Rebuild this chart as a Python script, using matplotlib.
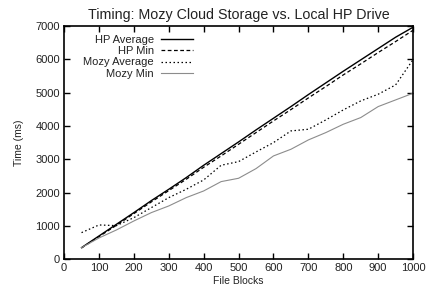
import matplotlib
matplotlib.use("Agg")
import matplotlib.pyplot as plt

plt.rcParams['font.family'] = ['Liberation Sans', 'DejaVu Sans']

# file blocks
blocks = [50, 100, 150, 200, 250, 300, 350, 400, 450, 500,
          550, 600, 650, 700, 750, 800, 850, 900, 950, 1000]

# times in ms
hp_avg = [350, 700, 1050, 1400, 1760, 2100, 2450, 2820, 3170, 3520,
          3880, 4230, 4580, 4940, 5290, 5640, 5980, 6320, 6660, 6960]
hp_min = [340, 680, 1020, 1370, 1720, 2060, 2400, 2760, 3100, 3450,
          3800, 4150, 4490, 4840, 5180, 5530, 5860, 6200, 6530, 6870]
mozy_avg = [800, 1030, 1010, 1250, 1550, 1850, 2100, 2380, 2820, 2930,
            3220, 3500, 3850, 3900, 4180, 4480, 4750, 4950, 5230, 5990]
mozy_min = [350, 640, 880, 1150, 1400, 1600, 1850, 2050, 2330, 2430,
            2720, 3100, 3300, 3580, 3800, 4050, 4250, 4580, 4780, 4980]

fig = plt.figure(figsize=(4.33, 2.94), dpi=100)
ax = fig.add_axes([0.148, 0.118, 0.806, 0.794])

ax.plot(blocks, hp_avg, color='black', lw=1.0, label='HP Average')
ax.plot(blocks, hp_min, color='black', lw=0.9, ls=(0, (3, 2)), label='HP Min')
ax.plot(blocks, mozy_avg, color='black', lw=0.9, ls=(0, (1.2, 2)), label='Mozy Average')
ax.plot(blocks, mozy_min, color='#8c8c8c', lw=0.8, label='Mozy Min')

ax.set_xlim(0, 1000)
ax.set_ylim(0, 7000)
ax.set_xticks(range(0, 1001, 100))
ax.set_yticks(range(0, 7001, 1000))
ax.tick_params(direction='in', top=True, right=True, length=4, width=1,
               labelsize=8, pad=3, labelcolor='#222222')
for s in ax.spines.values():
    s.set_linewidth(1.2)

ax.set_xlabel('File Blocks', fontsize=7.5, labelpad=2, color='#222222')
ax.set_ylabel('Time (ms)', fontsize=7.5, labelpad=8, color='#222222')
ax.set_title('Timing: Mozy Cloud Storage vs. Local HP Drive', fontsize=10.3,
             pad=5, color='#222222')

ax.legend(loc='upper left', bbox_to_anchor=(0.03, 1.0), frameon=False,
          markerfirst=False, fontsize=8, handlelength=2.9,
          handletextpad=0.6, labelspacing=0.12, borderaxespad=0.4,
          labelcolor='#222222')

fig.savefig('out.png', dpi=100)
